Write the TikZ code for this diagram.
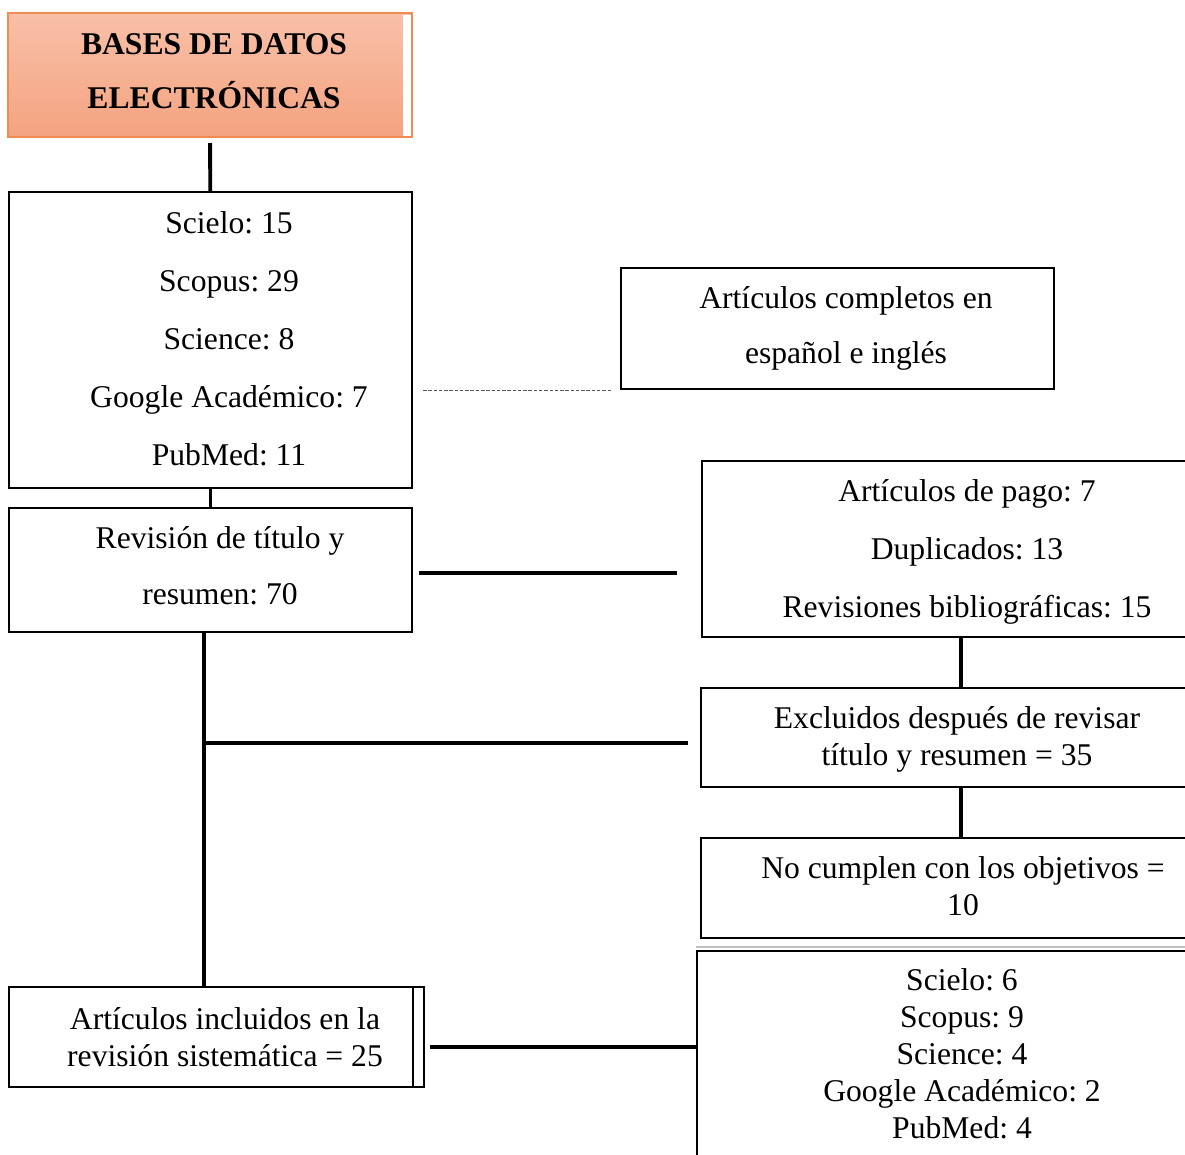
\documentclass[tikz,border=0pt]{standalone}
\usepackage{fontspec}
\setmainfont{Liberation Serif}
\frenchspacing
\usetikzlibrary{positioning}

\definecolor{peachtop}{RGB}{248,192,168}
\definecolor{peachbot}{RGB}{244,163,128}
\definecolor{peachline}{RGB}{240,140,82}

\tikzset{
	box/.style={draw, line width=1.2pt, inner sep=0pt},
	txt/.style={align=center, font=\fontsize{18pt}{21pt}\selectfont},
	airy/.style={align=center, font=\fontsize{18pt}{33pt}\selectfont},
	link/.style={line width=2.2pt},
	dotlink/.style={dash pattern=on 2pt off 1pt, line width=0.6pt, gray!70!black},
}

\begin{document}
\begin{tikzpicture}[x=0.02cm, y=-0.02cm]
	\useasboundingbox (0,0) rectangle (1185,1154);
	\clip (0,0) rectangle (1185,1154);
	% left column
	\node[box, draw=peachline, top color=peachtop, bottom color=peachbot, minimum width=8.08cm, minimum height=2.48cm,
		label={[align=center, font=\bfseries\fontsize{18pt}{31pt}\selectfont, xshift=0.08cm, yshift=0.08cm]center:{BASES DE DATOS\\ELECTRÓNICAS}}] (bases) at (210,75) {};
	\fill[white] (403,14.5) rectangle (410.5,135.5);
	\node[box, minimum width=8.06cm, minimum height=5.92cm,
		label={[airy, xshift=0.37cm, yshift=0.03cm]center:{Scielo: 15\\Scopus: 29\\Science: 8\\Google Académico: 7\\PubMed: 11}}] (counts) at (210.5,340) {};
	\node[box, minimum width=8.06cm, minimum height=2.48cm,
		label={[align=center, font=\fontsize{18pt}{32pt}\selectfont, xshift=0.19cm, yshift=0.08cm]center:{Revisión de título y\\resumen: 70}}] (rev) at (210.5,570) {};
	\node[box, minimum width=8.3cm, minimum height=2cm,
		label={[txt, xshift=0.17cm]center:{Artículos incluidos en la\\revisión sistemática = 25}}] (incl) at (216.5,1037) {};
	% right column
	\node[box, minimum width=8.66cm, minimum height=2.42cm,
		label={[align=center, font=\fontsize{18pt}{31pt}\selectfont, xshift=0.17cm]center:{Artículos completos en\\español e inglés}}] (full) at (837.5,328.5) {};
	\node[box, minimum width=10.36cm, minimum height=3.52cm,
		label={[airy, xshift=0.12cm, yshift=-0.06cm]center:{Artículos de pago: 7\\Duplicados: 13\\Revisiones bibliográficas: 15}}] (pay) at (961,549) {};
	\node[box, minimum width=10.4cm, minimum height=1.98cm,
		label={[txt, xshift=-0.08cm, yshift=-0.03cm]center:{Excluidos después de revisar\\título y resumen = 35}}] (excl) at (961,737.5) {};
	\node[box, minimum width=10.4cm, minimum height=2cm,
		label={[txt, xshift=0.04cm, yshift=0.03cm]center:{No cumplen con los objetivos =\\10}}] (nomatch) at (961,888) {};
	\node[box, minimum width=10.56cm, minimum height=4.18cm,
		label={[txt, xshift=0.02cm, yshift=0.04cm]center:{Scielo: 6\\Scopus: 9\\Science: 4\\Google Académico: 2\\PubMed: 4}}] (final) at (961,1055.5) {};
	%
	\coordinate (trunk) at (204,743);
	\draw [link, shorten <=0.1cm] (bases) -- (counts);
	\draw [link] (counts) -- (rev);
	\draw [dotlink, shorten <=0.2cm, shorten >=0.16cm] (counts.east |- full.south) -- (full.south west);
	\draw [link, shorten <=0.12cm, shorten >=0.48cm] ([yshift=-0.06cm]rev.east) -- ([yshift=-0.06cm]rev.east -| pay.west);
	\draw [link] (pay) -- (excl);
	\draw [link] (excl) -- (nomatch);
	\draw [link] (rev.south -| trunk) -- (incl.north -| trunk);
	\draw [link, shorten >=0.24cm] (trunk) -- (trunk -| excl.west);
	\draw [line width=1.2pt] ([xshift=-0.24cm]incl.north east) -- ([xshift=-0.24cm]incl.south east);
	\draw [link, shorten <=0.1cm] ([yshift=-0.2cm]incl.east) -- ([yshift=-0.2cm]incl.east -| final.west);
	\draw [gray!50, line width=0.6pt] ([yshift=0.06cm]final.north west) -- ([yshift=0.06cm]final.north east);
\end{tikzpicture}
\end{document}
